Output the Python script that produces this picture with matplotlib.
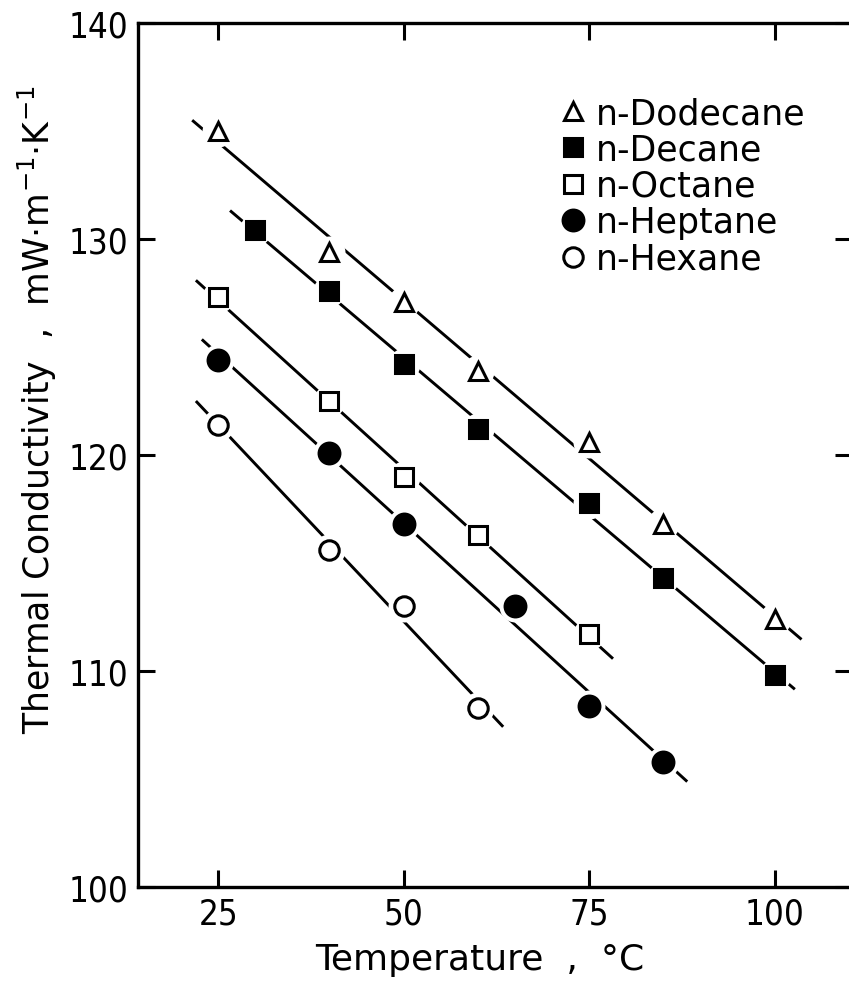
import numpy as np
import matplotlib
matplotlib.use("Agg")
import matplotlib.pyplot as plt

plt.rcParams['font.family'] = ['DejaVu Sans']

# ---- data ----
names = ["n-Dodecane", "n-Decane", "n-Octane", "n-Heptane", "n-Hexane"]
dodecane_T = [25, 40, 50, 60, 75, 85, 100]
dodecane_k = [135.0, 129.4, 127.1, 123.9, 120.6, 116.8, 112.4]
decane_T = [30, 40, 50, 60, 75, 85, 100]
decane_k = [130.4, 127.6, 124.2, 121.2, 117.8, 114.3, 109.8]
octane_T = [25, 40, 50, 60, 75]
octane_k = [127.3, 122.5, 119.0, 116.3, 111.7]
heptane_T = [25, 40, 50, 65, 75, 85]
heptane_k = [124.4, 120.1, 116.8, 113.0, 108.4, 105.8]
hexane_T = [25, 40, 50, 60]
hexane_k = [121.4, 115.6, 113.0, 108.3]
# extent of the fitted lines (temperature, °C)
line_start = [21.5, 26.6, 22.0, 22.8, 22.0]
line_end = [103.6, 102.7, 78.2, 88.2, 63.4]

x_ticks = [25, 50, 75, 100]
y_ticks = [100, 110, 120, 130, 140]

series_T = [dodecane_T, decane_T, octane_T, heptane_T, hexane_T]
series_k = [dodecane_k, decane_k, octane_k, heptane_k, hexane_k]
markers = ['^', 's', 's', 'o', 'o']
filled = [False, True, False, True, False]
msizes = [12.5, 13, 13, 15, 14]

fig = plt.figure(figsize=(8.49, 9.95), dpi=100)
ax = fig.add_axes([138/849, 1-888/995, (852-138)/849, (888-24)/995])
ax.set_xlim(14.2, 110.4)
ax.set_ylim(100, 140)

handles = []
for T, k, m, f, ms, s0, s1, nm in zip(series_T, series_k, markers, filled,
                                       msizes, line_start, line_end, names):
    T = np.array(T, float); k = np.array(k, float)
    p = np.polyfit(T, k, 1)
    xs = np.array([s0, s1])
    ax.plot(xs, np.polyval(p, xs), color='black', lw=2.1, zorder=2,
            solid_capstyle='butt')
    ax.plot(T, k, ls='none', marker='o', ms=23, mfc='white', mec='none',
            zorder=2.5)
    h, = ax.plot(T, k, ls='none', marker=m, ms=ms,
                 mfc='black' if f else 'white', mec='black', mew=2.2,
                 zorder=3, label=nm)
    handles.append(h)

ax.set_xticks(x_ticks)
ax.set_yticks(y_ticks)
ax.tick_params(direction='in', length=12, width=2.2, top=True, right=True,
               labelsize=25, pad=7)
for lab in ax.get_xticklabels() + ax.get_yticklabels():
    lab.set_fontstretch('condensed')
for sp in ax.spines.values():
    sp.set_linewidth(2.4)

leg = ax.legend(handles=handles, loc='upper left',
                bbox_to_anchor=(561/849, 1-97/995), bbox_transform=fig.transFigure,
                frameon=False, fontsize=25, handlelength=0.7, handletextpad=0.3,
                labelspacing=0.07, borderpad=0, borderaxespad=0, markerscale=1.0)

fig.text(480/849, 1-960/995, "Temperature  ,  °C", fontsize=26,
         ha='center', va='center')
fig.text(37/849, 1-410/995, "Thermal Conductivity  ,  mW·m$^{-1}$·K$^{-1}$",
         fontsize=25, rotation=90, ha='center', va='center')

fig.savefig("out.png", dpi=100)
